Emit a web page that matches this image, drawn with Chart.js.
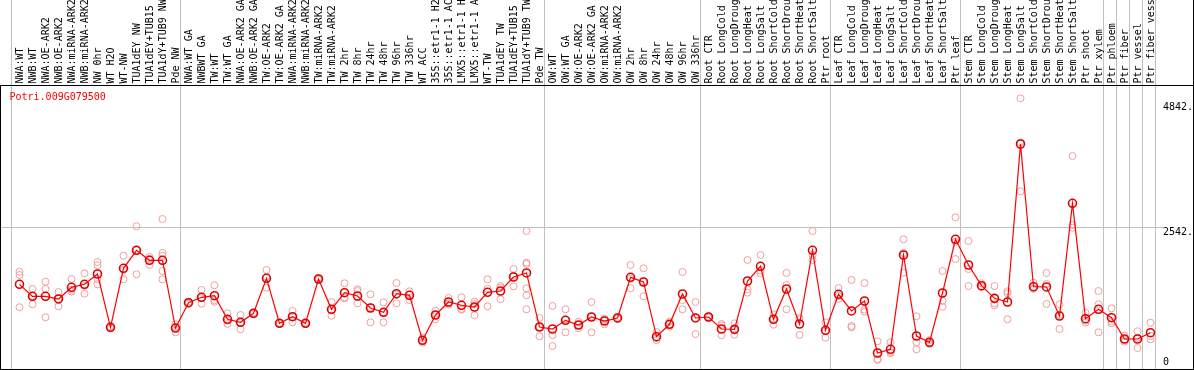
<!DOCTYPE html>
<html><head><meta charset="utf-8">
<script src="https://cdn.jsdelivr.net/npm/chart.js@4/dist/chart.umd.min.js"></script>
<style>html,body{margin:0;padding:0;background:#fff}canvas{display:block}</style>
</head><body>
<canvas id="c" width="1194" height="370"></canvas>
<script>
const GENE_ID = "Potri.009G079500";

// sample names as shown (cut to 14 characters in the original)
const CATEGORIES = [
  "NWA:WT","NWB:WT","NWA:OE-ARK2","NWB:OE-ARK2","NWA:miRNA-ARK2","NWB:miRNA-ARK2","NW 0hr","WT H2O","WT-NW",
  "TUA1dEY NW","TUA1dEY+TUB15","TUA1dY+TUB9 NW","Pde NW",
  "NWA:WT GA","NWBWT GA","TW:WT","TW:WT GA","NWA:OE-ARK2 GA","NWB:OE-ARK2 GA","TW:OE-ARK2","TW:OE-ARK2 GA",
  "NWA:miRNA-ARK2","NWB:miRNA-ARK2","TW:miRNA-ARK2","TW:miRNA-ARK2","TW 2hr","TW 8hr","TW 24hr","TW 48hr","TW 96hr","TW 336hr",
  "WT ACC","35S::etr1-1 H2","35S::etr1-1 AC","LMX5::etr1-1 H","LMX5::etr1-1 A","WT-TW","TUA1dEY TW","TUA1dEY+TUB15",
  "TUA1dY+TUB9 TW","Pde TW",
  "OW:WT","OW:WT GA","OW:OE-ARK2","OW:OE-ARK2 GA","OW:miRNA-ARK2","OW:miRNA-ARK2","OW 2hr","OW 8hr","OW 24hr",
  "OW 48hr","OW 96hr","OW 336hr",
  "Root CTR","Root LongCold","Root LongDroug","Root LongHeat","Root LongSalt","Root ShortCold","Root ShortDrou",
  "Root ShortHeat","Root ShortSalt","Ptr root",
  "Leaf CTR","Leaf LongCold","Leaf LongDroug","Leaf LongHeat","Leaf LongSalt","Leaf ShortCold","Leaf ShortDrou",
  "Leaf ShortHeat","Leaf ShortSalt","Ptr leaf",
  "Stem CTR","Stem LongCold","Stem LongDroug","Stem LongHeat","Stem LongSalt","Stem ShortCold","Stem ShortDrou",
  "Stem ShortHeat","Stem ShortSalt","Ptr shoot",
  "Ptr xylem","Ptr phloem","Ptr fiber","Ptr vessel","Ptr fiber vess"
];

const MEANS = [
  1499,1278,1278,1229,1444,1499,1689,707,1794,2126,1941,1941,694,
  1160,1260,1289,855,799,965,1610,781,903,781,1597,1039,1345,1284,1063,984,1326,1297,
  468,934,1173,1113,1081,1352,1376,1634,1708,713,
  676,836,750,897,823,879,1628,1542,534,763,1321,879,
  897,676,670,1560,1831,855,1413,768,2126,652,
  1315,1008,1192,234,302,2039,547,431,1339,2328,
  1855,1474,1241,1173,4084,1455,1450,915,2991,866,
  1039,884,492,492,608
];

const REPLICATES = [
  [1731,1671,1076],[1413,1284,1131],[1547,1413,892],[1358,1235,1094],[1597,1400,1363],[1702,1469,1326],
  [1910,1849,1597,1499],[690,707,725],[2026,1765,1591],[2568,2126,1684],[2002,1965,1855],
  [2702,2076,2026,1744,1591],[763,704,615],
  [1180,1160,1140],[1394,1244,1142],[1481,1207,1179],[965,832,768],[934,793,670],[980,965,950],
  [1763,1630,1437],[792,781,770],[1008,902,799],[797,781,765],[1614,1597,1580],[1173,1023,921],
  [1518,1260,1241],[1407,1376,1149],[1315,1075,799],[1168,985,799],[1523,1306,1149],[1370,1311,1210],
  [512,468,424],[1013,934,855],[1247,1149,1123],[1260,1047,1032],[1179,1136,928],[1591,1418,1094],
  [1468,1437,1223],[1781,1659,1462],[2481,1897,1873,1426,1297,1039],[879,718,542],
  [1100,566,363],[1039,854,615],[810,751,689],[1173,903,615],[866,840,763],[898,879,860],
  [1855,1603,1426],[1794,1554,1278],[621,510,471],[810,761,718],[1726,1210,1039],[1173,880,584],
  [914,897,880],[768,740,560],[781,658,571],[1947,1407,1345],[2039,1750,1702],[947,863,755],
  [1708,1487,1039],[883,855,566],[2481,2039,1947],[799,641,516],
  [1431,1284,1230],[1579,731,707],[1523,1032,995],[449,123,105],[431,252,230],[2328,2076,1713],
  [910,431,302],[473,420,400],[1744,1192,1087],[2734,2285,1965],
  [2297,1781,1468],[1518,1455,1449],[1468,1149,1113],[1370,1334,855],[4925,4115,3212],[1529,1418,1418],
  [1708,1505,1137],[1131,938,676],[3863,2592,2542],[976,829,793],
  [1376,1131,615],[1057,814,781],[553,481,442],[634,516,326],[792,546,486]
];

// index of the first category of each sample group (last entry = end of the list)
const GROUP_STARTS = [0, 13, 41, 53, 63, 73, 84, 85, 86, 87, 88];

const Y_TICK_VALUES = [0, 2542, 4842];
const Y_TICK_LABELS = ["0", "2542.", "4842."];
const Y_GRID_VALUE = 2542;

// ---- styling / layout ----
const MONO = "'DejaVu Sans Mono', 'Liberation Mono', monospace";
const GRID_GREY = '#c0c0c0';
const BOUNDARY_SHIFT = 0.615;
const boundaryValues = GROUP_STARTS.map(b => b - BOUNDARY_SHIFT);

const meanPoints = MEANS.map((v, i) => ({x: i, y: v}));
const repPoints = [];
REPLICATES.forEach((arr, i) => arr.forEach(v => repPoints.push({x: i, y: v})));

const framePlugin = {
  id: 'frame',
  beforeDraw(chart) {
    const {ctx, width, height} = chart;
    ctx.save();
    ctx.fillStyle = '#fff';
    ctx.fillRect(0, 0, width, height);
    ctx.restore();
  },
  afterDraw(chart) {
    const {ctx, chartArea, width, height} = chart;
    ctx.save();
    ctx.strokeStyle = '#000';
    ctx.lineWidth = 1;
    ctx.beginPath();
    ctx.moveTo(0, chartArea.top - 0.5); ctx.lineTo(width, chartArea.top - 0.5);
    ctx.moveTo(0, height - 0.5); ctx.lineTo(width, height - 0.5);
    ctx.moveTo(chartArea.left - 0.5, chartArea.top - 0.5); ctx.lineTo(chartArea.left - 0.5, height);
    ctx.moveTo(width - 0.5, 0); ctx.lineTo(width - 0.5, height);
    ctx.stroke();
    ctx.fillStyle = '#ff0000';
    ctx.font = '10px ' + MONO;
    ctx.textBaseline = 'middle';
    ctx.textAlign = 'left';
    ctx.fillText(GENE_ID, chartArea.left + 8.5, chartArea.top + 11.5);
    ctx.restore();
  }
};

Chart.defaults.font.family = MONO;
Chart.defaults.font.size = 10;
Chart.defaults.color = '#000';

new Chart(document.getElementById('c'), {
  type: 'line',
  data: {
    datasets: [
      {
        label: GENE_ID,
        data: meanPoints,
        order: 0,
        borderColor: '#ff0000',
        borderWidth: 1.2,
        tension: 0,
        pointRadius: 4,
        pointBorderWidth: 1.6,
        pointBorderColor: '#e00000',
        pointBackgroundColor: 'rgba(255,255,255,0)'
      },
      {
        label: 'replicates',
        data: repPoints,
        order: 1,
        showLine: false,
        pointRadius: 3.5,
        pointBorderWidth: 1,
        pointBorderColor: '#f0a0a0',
        pointBackgroundColor: 'rgba(255,255,255,0)'
      }
    ]
  },
  options: {
    responsive: false,
    devicePixelRatio: 1,
    animation: false,
    events: [],
    layout: {autoPadding: false, padding: {left: 1, right: 0, top: 0, bottom: 1}},
    plugins: {legend: {display: false}, tooltip: {enabled: false}, title: {display: false}},
    scales: {
      x: {
        type: 'linear',
        position: 'top',
        min: -1.423,
        max: 87.423,
        afterBuildTicks(scale) {
          const t = CATEGORIES.map((_, i) => ({value: i})).concat(boundaryValues.map(v => ({value: v})));
          t.sort((a, b) => a.value - b.value);
          scale.ticks = t;
        },
        afterFit(scale) {
          scale.height = 86;
          scale.paddingLeft = 0; scale.paddingRight = 0; scale.paddingTop = 0; scale.paddingBottom = 0;
        },
        border: {display: false},
        grid: {
          display: true,
          drawTicks: true,
          tickLength: 86,
          lineWidth: 1,
          color: (ctx) => (ctx.tick && !Number.isInteger(ctx.tick.value)) ? GRID_GREY : 'rgba(0,0,0,0)'
        },
        ticks: {
          autoSkip: false,
          minRotation: 90,
          maxRotation: 90,
          padding: -83.5,
          labelOffset: 12.5,
          color: '#000',
          font: {size: 10, family: MONO},
          callback: (value) => Number.isInteger(value) ? CATEGORIES[value] : ''
        }
      },
      y: {
        type: 'linear',
        position: 'right',
        min: -60.8,
        max: 5152,
        afterBuildTicks(scale) { scale.ticks = Y_TICK_VALUES.map(v => ({value: v})); },
        afterFit(scale) {
          scale.width = 38;
          scale.paddingLeft = 0; scale.paddingRight = 0; scale.paddingTop = 0; scale.paddingBottom = 0;
        },
        border: {display: false},
        grid: {
          drawTicks: true,
          tickLength: 8,
          color: (ctx) => (ctx.tick && ctx.tick.value === Y_GRID_VALUE) ? GRID_GREY : 'rgba(0,0,0,0)'
        },
        ticks: {
          padding: -1,
          labelOffset: 4.6,
          color: '#000',
          font: (ctx) => ({size: 10, family: MONO, lineHeight: (ctx.tick && ctx.tick.value === 0) ? '16px' : 1.2}),
          callback: (value) => {
            const lbl = Y_TICK_LABELS[Y_TICK_VALUES.indexOf(value)];
            return value === 0 ? [lbl, ''] : lbl;
          }
        }
      }
    }
  },
  plugins: [framePlugin]
});
</script>
</body></html>
